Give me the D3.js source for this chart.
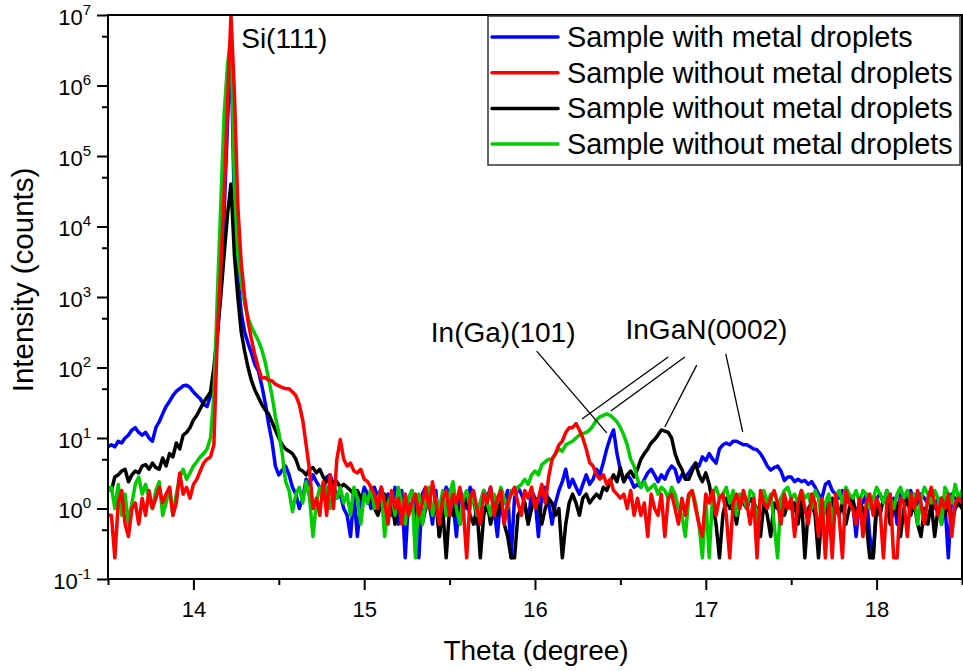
<!doctype html>
<html lang="en">

<head>
    <meta charset="utf-8">
    <title>XRD theta scan</title>
    <style>
        body {
            margin: 0;
            background-color: white;
        }

        svg {
            display: block;
            font-family: 'Liberation Sans', Arial, sans-serif;
        }
    </style>
</head>

<body>
    <svg id="chart" width="963" height="671"></svg>
    <script src="https://cdn.jsdelivr.net/npm/d3@7"></script>
    <script>

        // scan grid: one reading every 0.02 degree from 13.5
        var thetaStart = 13.5;
        var thetaStep = 0.02;

        var seriesNames = [
            "Sample with metal droplets",
            "Sample without metal droplets",
            "Sample without metal droplets",
            "Sample without metal droplets"
        ];
        var seriesColors = ["#0000ff", "#ff0000", "#000000", "#00cc00"];

        var blueCounts = [
            7.5, 8, 7.5, 9, 8.5, 10, 11, 13, 14, 12,
            11, 12, 10, 9, 14, 17, 22, 28, 33, 40,
            46, 50, 55, 56, 52, 45, 40, 36, 30, 28,
            40, 80, 250, 1600, 16000, 3e5, 4e6, 16000, 2000, 600,
            320, 220, 160, 110, 90, 56, 32, 16, 9, 4,
            3, 3.5, 4, 3, 2, 1.6, 1, 1.4, 2.6, 2.2,
            3, 2.4, 2, 1.8, 2.8, 3, 2.2, 1.4, 1.6, 1,
            0.8, 0.4, 1.6, 0.4, 1.2, 2, 1.6, 1, 2, 1.4,
            2, 1.2, 1.6, 0.8, 2, 0.6, 1.8, 0.2, 1.4, 1.8,
            1, 0.2, 1.6, 2, 1.2, 0.6, 1.8, 0.4, 1.4, 2,
            1.6, 1.2, 0.4, 1.8, 1.4, 1, 2, 1.6, 0.6, 1.2,
            1.8, 1.4, 2, 1, 0.4, 1.6, 1.2, 1.8, 0.2, 1.4,
            2, 1.6, 1.2, 0.6, 1.8, 1.4, 0.4, 1.6, 2, 1.2,
            0.6, 1.2, 1.8, 2.4, 3.6, 2, 2.6, 2, 1.6, 2.2,
            3, 2.2, 2.6, 3.6, 3, 4.5, 7, 10, 13, 6,
            3.5, 2.4, 3, 2.6, 2, 2.2, 2, 2.6, 3.2, 3.6,
            3, 2.4, 3, 2.6, 3.4, 4, 3.6, 2.4, 3, 2.8,
            3.2, 3.8, 4.4, 4, 5.4, 4.8, 6, 5, 4.4, 7,
            8, 8.5, 8, 9, 9, 8.5, 8, 8, 7.5, 7,
            6.8, 6, 5, 4, 3.5, 3.8, 4, 3.4, 2.5, 2.8,
            2.8, 2.4, 2.6, 2.4, 2.5, 2.2, 2.4, 2, 1.6, 1.4,
            2.2, 2.4, 1.8, 1.6, 1.4, 1.8, 1.2, 1.4, 1.2, 0.4,
            1.4, 1.2, 1.6, 0.4, 0.2, 1.4, 1.6, 1.2, 1.8, 1,
            1.4, 0.6, 1.6, 1.2, 1.4, 1.8, 1, 1.2, 1.6, 1.4,
            1.2, 1.6, 1, 1.4, 0.6, 1.2, 0.2, 1.6, 1.4, 1.2,
            1.4
        ];

        var redCounts = [
            0.8, 0.8, 0.2, 1.2, 1.8, 0.6, 0.4, 1, 1.2, 0.6,
            1.4, 0.8, 1.8, 1, 1.4, 2, 1.2, 1.6, 2, 0.8,
            1.2, 3.2, 1.6, 2, 1.4, 2.2, 2.6, 3.4, 4.4, 5,
            5.4, 8, 300, 2500, 30000, 6e5, 1e7, 8e5, 20000, 3000,
            1000, 450, 250, 150, 100, 70, 72, 66, 65, 58,
            55, 52, 50, 50, 45, 40, 30, 18, 8, 3.5,
            1, 1.4, 0.8, 2.4, 0.8, 3, 1, 5, 9.5, 5,
            4, 4.4, 3.4, 3.2, 3.6, 2.6, 2.4, 2, 1.6, 1,
            2, 1.2, 0.6, 1.8, 1, 1.4, 0.6, 1.6, 0.8, 1.2,
            1.6, 0.8, 1.2, 2, 1, 2.4, 1.2, 0.6, 1.4, 1.8,
            0.8, 1.6, 1.2, 2, 1, 0.2, 1.4, 1.8, 1, 0.6,
            1.6, 1.2, 2, 0.8, 1.4, 1.8, 0.6, 1.2, 1.6, 2,
            1.2, 0.8, 1.8, 1.4, 2, 1, 1.4, 2.2, 1.2, 2.8,
            5, 6, 8, 9, 12, 14, 14, 16, 13, 10,
            7, 4.5, 4, 3, 2.6, 3, 2.2, 2.6, 1.8, 1.6,
            1.4, 1.6, 1, 1.8, 0.8, 1.4, 0.8, 1.2, 0.4, 1.6,
            1, 0.8, 1.6, 0.4, 1.4, 1.6, 1, 0.6, 1.4, 0.8,
            1.6, 1.8, 1, 0.6, 0.4, 1.6, 1.2, 1.8, 0.8, 1.4,
            1.6, 0.8, 0.2, 1.2, 1.6, 1, 1.8, 1.2, 0.6, 1.4,
            0.2, 1.8, 1.2, 1, 1.4, 1.8, 1.2, 0.6, 1.6, 1,
            1.4, 0.4, 1.2, 1.8, 1, 0.6, 1.6, 1.2, 0.4, 1.4,
            0.2, 1.2, 0.2, 1.6, 0.8, 0.2, 1.8, 1.2, 1, 0.6,
            1.4, 0.4, 1.2, 1.6, 0.8, 1.4, 1, 0.2, 1.2, 1.6,
            0.2, 0.2, 1.4, 1.2, 0.4, 1.6, 1, 1.8, 1.2, 0.6,
            1.4, 2, 1.2, 0.8, 1.4, 1, 1.6, 0.4, 1.2, 1.4,
            1.2
        ];

        var blackCounts = [
            2, 1.8, 2.8, 3, 3.4, 3.6, 2.4, 3, 3.4, 3.2,
            4, 4.2, 3.6, 4.4, 3.8, 3.6, 5.2, 4, 6, 5.4,
            8.5, 7, 11, 12, 14, 18, 21, 26, 32, 38,
            45, 100, 300, 1000, 4000, 15000, 40000, 4000, 1000, 320,
            170, 100, 65, 48, 38, 30, 25, 22, 17, 13,
            10, 8, 7, 6.5, 6, 5, 3.6, 3.4, 3, 3.6,
            3.8, 3.2, 3.6, 2.8, 2.4, 2.6, 2.2, 2.4, 2, 2.2,
            2, 1.8, 1.6, 1.8, 1.4, 1.6, 1.2, 1.4, 1, 0.8,
            1.2, 1.6, 1, 1.4, 0.6, 1.2, 1.4, 0.8, 1.2, 1,
            0.8, 1.2, 0.6, 1, 1.4, 0.8, 1.2, 0.4, 1, 0.2,
            1, 0.8, 1.2, 0.6, 1, 1.4, 0.8, 0.6, 1, 0.2,
            0.8, 1.2, 0.6, 1, 0.8, 1.4, 0.6, 0.4, 0.2, 0.2,
            0.8, 1, 1.2, 0.6, 1, 1.4, 1.2, 0.6, 1, 1.4,
            1.2, 0.8, 1, 0.2, 0.6, 1.2, 1.6, 1.2, 0.8, 1.4,
            1.6, 1.2, 1.4, 1.6, 1.4, 2, 1.8, 2.4, 3, 2.4,
            3.8, 2.4, 3, 3.4, 2.8, 3.6, 5, 6, 7, 8.5,
            9.5, 11, 13, 12.5, 12, 10, 6, 4.4, 3.6, 2.6,
            2.6, 3.4, 4.4, 3, 2.4, 3.2, 2.2, 1.2, 0.6, 0.2,
            0.8, 1.4, 1, 1.2, 0.6, 1.4, 1.2, 1, 1.4, 1.2,
            1, 0.4, 1.2, 0.8, 0.4, 1.2, 1, 1.4, 0.8, 1.2,
            1, 1.2, 0.6, 1.4, 0.2, 1, 1.2, 0.8, 0.2, 1,
            1.2, 0.6, 1.4, 1, 0.8, 1.2, 0.6, 1, 1.4, 0.8,
            1.2, 1, 0.6, 0.2, 0.2, 1, 0.8, 1.4, 1.2, 0.6,
            1, 1.2, 0.4, 1, 1.4, 0.8, 1.2, 0.6, 0.4, 1,
            0.6, 1.2, 0.4, 1, 1.4, 0.8, 1.2, 0.6, 1, 1.2,
            1
        ];

        var greenCounts = [
            1.8, 2, 1, 2.2, 0.8, 1.6, 0.6, 1.2, 2.2, 2.8,
            1.6, 2.2, 1.4, 1, 1.8, 2.4, 0.8, 1.2, 2, 0.8,
            1.6, 2.8, 3.6, 2.6, 3.2, 4, 4.6, 5.4, 6, 7,
            10, 40, 1000, 20000, 4e5, 2e6, 5e6, 40000, 4000, 1600,
            800, 500, 380, 300, 240, 180, 120, 70, 40, 20,
            12, 6, 2.4, 1.8, 0.9, 1.6, 2, 1.2, 2.4, 1.4,
            0.4, 1.2, 2, 1.6, 2, 1, 1.8, 1.4, 2, 1.2,
            1.6, 0.8, 2, 1.4, 0.6, 1.6, 1.2, 2, 1, 1.4,
            1.8, 0.4, 1.2, 1.6, 0.8, 2, 1.2, 0.6, 1.4, 1.8,
            0.2, 1.6, 0.6, 1.2, 2, 0.8, 1.4, 1, 1.8, 0.8,
            1.6, 2.4, 1, 0.6, 1.4, 1.8, 1, 1.6, 0.8, 1.2,
            1.8, 1.2, 0.8, 1.6, 1.2, 2, 1.4, 1, 1.8, 1.6,
            2, 2.2, 2.6, 2.2, 3, 3.4, 3, 4.2, 4.6, 5,
            5, 6, 7, 6.5, 8, 8.5, 9, 10, 11, 11.5,
            12, 13, 15, 18, 20, 21, 22, 21, 19, 17,
            14, 11, 8, 5, 4, 2.6, 2, 2.4, 1.8, 2,
            2.2, 1.6, 2, 1.8, 1.4, 2, 1.6, 1, 0.8, 0.4,
            1.4, 1.8, 1.2, 0.6, 0.2, 1.4, 0.2, 1.6, 2, 1.4,
            1.6, 2, 1.2, 1.8, 0.8, 1.6, 1.4, 1, 1.8, 1.6,
            0.6, 1.4, 1.8, 1.2, 1.6, 0.6, 0.2, 1.4, 1.8, 2,
            1.4, 1.6, 1.2, 1.8, 1.4, 1.6, 1, 1.8, 1.4, 0.6,
            1.2, 1.6, 0.6, 1.4, 1.8, 1.2, 2, 1.6, 1.4, 1.8,
            1.2, 1.8, 1.6, 1, 1.4, 2, 1.6, 1.2, 1.8, 1.4,
            1, 1.6, 2, 1.4, 1.8, 1.2, 1.6, 0.6, 1.4, 2,
            1.6, 1.2, 1.8, 1.4, 0.6, 2, 1.6, 1.2, 2.2, 1.4,
            1.8
        ];

        var xMajorTicks = [14, 15, 16, 17, 18];
        var xMinorTicks = [13.5, 14.5, 15.5, 16.5, 17.5, 18.5];
        var yMajorTicks = [1e-1, 1e0, 1e1, 1e2, 1e3, 1e4, 1e5, 1e6, 1e7];
        var yMinorTicks = [0.5, 5, 50, 500, 5e3, 5e4, 5e5, 5e6];

        // peak labels, anchored at (theta, counts)
        var peakLabels = [
            { text: "Si(111)", theta: 14.28, counts: 3.4e6 },
            { text: "In(Ga)(101)", theta: 15.39, counts: 230 },
            { text: "InGaN(0002)", theta: 16.53, counts: 254 }
        ];
        // pointer lines: [theta1, counts1, theta2, counts2]
        var pointerLines = [
            [16.01, 171, 16.42, 11.8],
            [16.78, 141, 16.275, 18.6],
            [16.877, 141, 16.444, 24.2],
            [16.947, 108, 16.76, 14.3],
            [17.117, 156, 17.216, 12.2]
        ];

        function drawChart() {
            var seriesCounts = [blueCounts, redCounts, blackCounts, greenCounts];
            var drawOrder = [0, 2, 3, 1];

            var margin = { top: 15, right: 1, bottom: 92, left: 108 };
            var svg = d3.select("#chart");
            var width = +svg.attr("width") - margin.left - margin.right;
            var height = +svg.attr("height") - margin.top - margin.bottom;

            var g = svg.append("g")
                .attr("transform", "translate(" + margin.left + "," + margin.top + ")");

            var x = d3.scaleLinear().domain([13.5, 18.5]).range([0, width]);
            var y = d3.scaleLog().domain([1e-1, 1e7]).range([height, 0]);

            g.append("clipPath").attr("id", "plot-clip")
                .append("rect").attr("width", width).attr("height", height);

            var line = d3.line()
                .x(function (d, i) { return x(thetaStart + i * thetaStep) })
                .y(function (d) { return y(d) });

            g.append("g")
                .attr("clip-path", "url(#plot-clip)")
                .selectAll("path")
                .data(drawOrder)
                .join("path")
                .attr("fill", "none")
                .attr("stroke", function (k) { return seriesColors[k] })
                .attr("stroke-width", 3.5)
                .attr("stroke-linejoin", "round")
                .attr("stroke-linecap", "round")
                .attr("d", function (k) { return line(seriesCounts[k]) });

            // frame
            g.append("rect")
                .attr("width", width).attr("height", height)
                .attr("fill", "none").attr("stroke", "#000").attr("stroke-width", 2);

            // x axis
            g.append("g")
                .attr("transform", "translate(0," + height + ")")
                .call(d3.axisBottom(x).tickValues(xMajorTicks).tickSize(11).tickPadding(11)
                    .tickFormat(d3.format("d")));
            g.append("g")
                .attr("transform", "translate(0," + height + ")")
                .call(d3.axisBottom(x).tickValues(xMinorTicks).tickSize(6).tickFormat(""));

            // y axis
            var yAxis = g.append("g")
                .call(d3.axisLeft(y).tickValues(yMajorTicks).tickSize(11).tickFormat(""));
            g.append("g")
                .call(d3.axisLeft(y).tickValues(yMinorTicks).tickSize(6).tickFormat(""));

            yAxis.selectAll(".tick").append("text")
                .attr("x", -17)
                .attr("y", 9)
                .attr("text-anchor", "end")
                .attr("fill", "#000")
                .each(function (d) {
                    var t = d3.select(this);
                    t.append("tspan").text("10");
                    t.append("tspan")
                        .attr("font-size", 15)
                        .attr("dy", -10)
                        .text(Math.round(Math.log10(d)));
                });

            g.selectAll(".domain").remove();
            g.selectAll(".tick line").attr("stroke", "#000").attr("stroke-width", 2);
            g.selectAll(".tick text")
                .attr("font-family", "'Liberation Sans', Arial, sans-serif")
                .attr("font-size", 22)
                .attr("fill", "#000");

            // axis titles
            g.append("text")
                .attr("x", 428)
                .attr("y", 645)
                .attr("text-anchor", "middle")
                .attr("font-size", 28)
                .text("Theta (degree)");

            g.append("text")
                .attr("transform", "translate(-75," + 265 + ") rotate(-90)")
                .attr("text-anchor", "middle")
                .attr("font-size", 29.5)
                .text("Intensity (counts)");

            // peak annotations
            g.selectAll(".peak-label")
                .data(peakLabels)
                .join("text")
                .attr("class", "peak-label")
                .attr("x", function (d) { return x(d.theta) })
                .attr("y", function (d) { return y(d.counts) })
                .attr("font-size", 28)
                .text(function (d) { return d.text });

            g.selectAll(".pointer")
                .data(pointerLines)
                .join("line")
                .attr("class", "pointer")
                .attr("x1", function (d) { return x(d[0]) })
                .attr("y1", function (d) { return y(d[1]) })
                .attr("x2", function (d) { return x(d[2]) })
                .attr("y2", function (d) { return y(d[3]) })
                .attr("stroke", "#000")
                .attr("stroke-width", 1.3);

            // legend
            var legend = g.append("g").attr("transform", "translate(380,1)");
            legend.append("rect")
                .attr("width", 472).attr("height", 149)
                .attr("fill", "white").attr("stroke", "#333").attr("stroke-width", 1.5);

            var rows = legend.selectAll(".legend-row")
                .data(seriesNames)
                .join("g")
                .attr("class", "legend-row")
                .attr("transform", function (d, i) { return "translate(0," + (21 + i * 35.7) + ")" });
            rows.append("line")
                .attr("x1", 4).attr("x2", 70)
                .attr("stroke", function (d, i) { return seriesColors[i] })
                .attr("stroke-width", 3.5)
                .attr("stroke-linecap", "round");
            rows.append("text")
                .attr("x", 79)
                .attr("y", 10)
                .attr("font-size", 28.8)
                .text(function (d) { return d });
        }

        drawChart();
    </script>
</body>

</html>
